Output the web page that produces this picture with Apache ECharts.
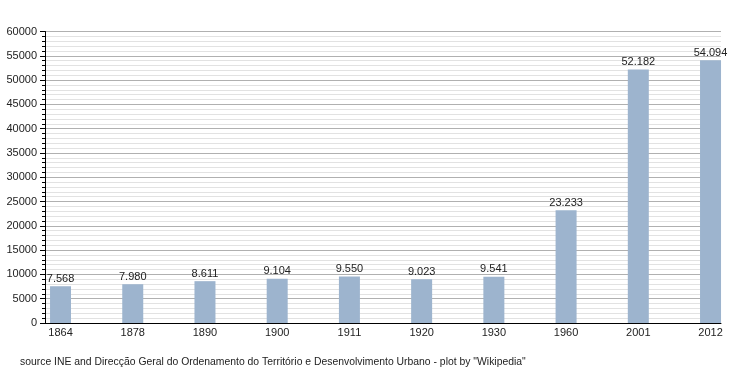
<!DOCTYPE html>
<html><head><meta charset="utf-8">
<script src="https://cdn.jsdelivr.net/npm/echarts@6/dist/echarts.min.js"></script>
<style>html,body{margin:0;padding:0;background:#fff}#c{width:750px;height:373px}</style>
</head><body><div id="c"></div>
<script>
var years = ['1864','1878','1890','1900','1911','1920','1930','1960','2001','2012'];
var population = [7568, 7980, 8611, 9104, 9550, 9023, 9541, 23233, 52182, 54094];
var sourceText = 'source INE and Direcção Geral do Ordenamento do Território e Desenvolvimento Urbano - plot by "Wikipedia"';

function fmt(v){ return String(v).replace(/\B(?=(\d{3})+(?!\d))/g, '.'); }

var chart = echarts.init(document.getElementById('c'));
var font = 'Liberation Sans, Arial, sans-serif';
chart.setOption({
  animation: false,
  grid: {left: 45, right: 29, top: 31.5, bottom: 50, containLabel: false},
  title: {text: sourceText, left: 15, top: 352,
    textStyle: {fontSize: 10.4, fontWeight: 'normal', color: '#222', fontFamily: font}},
  xAxis: {
    type: 'value', min: -0.215, max: 9.145,
    axisLine: {show: true, lineStyle: {color: '#000', width: 1}},
    axisTick: {show: false},
    splitLine: {show: false},
    axisLabel: {customValues: years.map(function(_, i){return i;}),
      formatter: function(v){ return years[Math.round(v)]; },
      color: '#222', fontSize: 11, fontFamily: font, margin: 4}
  },
  yAxis: {
    type: 'value', min: 0, max: 60000, interval: 5000,
    axisLine: {show: true, onZero: false, lineStyle: {color: '#000', width: 1}},
    axisTick: {show: true, length: 5, lineStyle: {color: '#000'}},
    minorTick: {show: true, splitNumber: 5, length: 3, lineStyle: {color: '#000'}},
    splitLine: {show: true, lineStyle: {color: '#b0b0b0', width: 1}},
    minorSplitLine: {show: true, lineStyle: {color: '#e2e2e2', width: 1}},
    axisLabel: {color: '#222', fontSize: 11, fontFamily: font, margin: 8,
      formatter: function(v){ return String(v); }}
  },
  series: [{
    type: 'bar', barWidth: 21,
    data: population.map(function(v, i){ return [i, v]; }),
    itemStyle: {color: '#9db4ce'},
    label: {show: true, position: 'top', distance: 2, color: '#222', fontSize: 11, fontFamily: font,
      formatter: function(p){ return fmt(p.value[1]); }}
  }]
});
</script></body></html>
